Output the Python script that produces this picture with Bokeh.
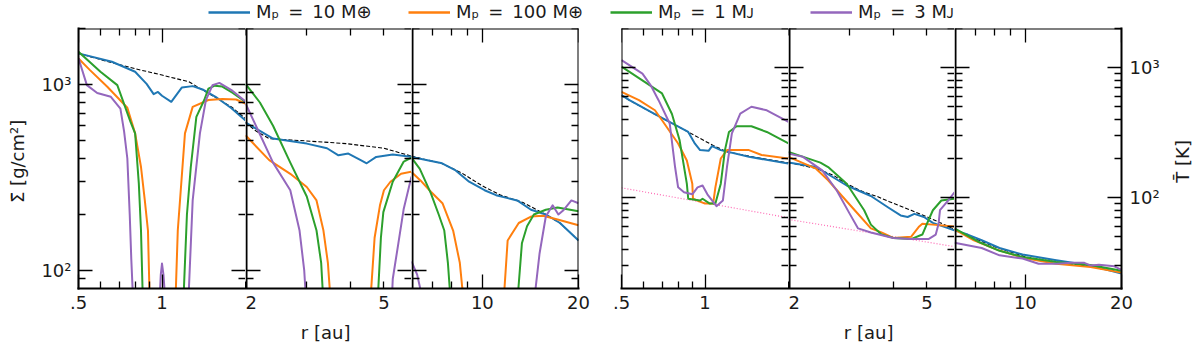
import json
import math
from bokeh.plotting import figure
from bokeh.models import (Range1d, LogAxis, FixedTicker, Legend, LegendItem, Label,
                          CustomJSTickFormatter)
from bokeh.layouts import row, column
from bokeh.embed import file_html
from bokeh.resources import INLINE

FONT = "DejaVu Sans"
BLUE, ORANGE, GREEN, PURPLE = "#1f77b4", "#ff7f0e", "#2ca02c", "#9467bd"
LEGEND_LABELS = ["Mₚ\u2002=\u200210 M⊕", "Mₚ\u2002=\u2002100 M⊕", "Mₚ\u2002=\u20021 Mᴊ", "Mₚ\u2002=\u20023 Mᴊ"]

# ---------------- axes / ticks ----------------
SEG_LIMITS = [(0.5, 2.0), (2.0, 6.0), (6.0, 20.0)]
X_MAJOR = [[0.5, 1], [2, 5], [10, 20]]
X_MAJOR_LABELS = [[".5", "1"], ["2", "5"], ["10", "20"]]
X_MINOR = [[0.6, 0.7, 0.8, 0.9], [3, 4], [7, 8, 9]]
SIG_LIMITS = (80, 2000)
T_LIMITS = (20, 2000)
Y_MAJOR = [100, 1000]
Y_MAJOR_LABELS = ["10²", "10³"]
SIG_MINOR = [90, 200, 300, 400, 500, 600, 700, 800, 900, 2000]
T_MINOR = [30, 40, 50, 60, 70, 80, 90, 200, 300, 400, 500, 600, 700, 800, 900, 2000]
SIG_TITLE = "Σ̄  [g/cm²]"
T_TITLE = "T̄  [K]"
R_TITLE = "r  [au]"

# ---------------- surface density, left panel ----------------
S1_R_INIT = [0.5, 0.64, 0.8, 1.0, 1.25, 1.5, 1.78, 2.0]
S1_INIT = [1470, 1325, 1215, 1124, 1034, 880, 758, 655]
S1_R_10ME = [0.5, 0.66, 0.8, 0.88, 0.933, 0.967, 1.0, 1.08, 1.18, 1.29, 1.4, 1.56, 1.78, 2.0]
S1_10ME = [1470, 1325, 1171, 1007, 887, 912, 870, 807, 964, 980, 940, 859, 745, 640]
S1_R_100ME = [0.5, 0.55, 0.635, 0.75, 0.8, 0.84, 0.867, 0.89, 0.905, 1.115, 1.14, 1.21, 1.29, 1.47, 1.65, 1.85, 2.0]
S1_100ME = [1380, 1195, 973, 750, 546, 360, 238, 164, 60, 60, 164, 546, 758, 825, 835, 830, 790]
S1_R_1MJ = [0.5, 0.6, 0.69, 0.77, 0.8, 0.825, 0.84, 0.855, 1.19, 1.23, 1.27, 1.33, 1.42, 1.47, 1.55, 1.65, 1.8, 2.0]
S1_1MJ = [1500, 1171, 992, 629, 546, 293, 164, 60, 60, 200, 360, 670, 825, 950, 985, 975, 900, 807]
S1_R_3MJ = [0.5, 0.536, 0.584, 0.654, 0.708, 0.73, 0.75, 0.765, 0.775, 0.79, 0.975, 0.99, 1.0, 1.012,
            1.035, 1.24, 1.29, 1.37, 1.44, 1.52, 1.61, 1.78, 2.0]
S1_3MJ = [1382, 992, 900, 859, 742, 560, 400, 200, 115, 60, 60, 95, 109, 95,
          60, 60, 238, 546, 825, 990, 1020, 933, 810]

S2_R_INIT = [2.0, 2.15, 2.34, 2.7, 3.0, 3.89, 5.0, 6.0]
S2_INIT = [625, 560, 512, 503, 497, 481, 454, 412]
S2_R_10ME = [2.0, 2.4, 3.0, 3.43, 3.7, 3.95, 4.3, 4.46, 4.75, 5.3, 6.0]
S2_10ME = [625, 512, 481, 454, 416, 425, 391, 377, 408, 420, 408]
S2_R_100ME = [2.0, 2.34, 2.69, 3.0, 3.2, 3.35, 3.45, 3.53, 4.55, 4.7, 4.87, 5.0, 5.22, 5.6, 6.0]
S2_100ME = [533, 392, 331, 281, 238, 164, 110, 60, 60, 150, 224, 270, 300, 331, 340]
S2_R_1MJ = [2.0, 2.2, 2.4, 2.69, 3.0, 3.2, 3.3, 3.36, 4.78, 4.9, 4.98, 5.3, 5.7, 6.0]
S2_1MJ = [1007, 800, 600, 380, 250, 164, 110, 60, 60, 150, 206, 300, 385, 404]
S2_R_3MJ = [2.0, 2.2, 2.4, 2.69, 2.86, 2.95, 3.0, 5.25, 5.3, 5.5, 5.7, 6.0]
S2_3MJ = [790, 540, 380, 270, 164, 100, 60, 60, 90, 140, 215, 320]

S3_R_INIT = [6.0, 7.5, 8.6, 10.0, 11.35, 13.4, 15.8, 17.5, 20.0]
S3_INIT = [412, 375, 335, 285, 255, 232, 200, 180, 145]
S3_R_10ME = [6.0, 7.48, 8.25, 9.09, 10.16, 11.04, 12.0, 12.86, 14.2, 15.8, 17.5, 20.0]
S3_10ME = [408, 377, 345, 300, 270, 254, 245, 238, 212, 200, 180, 145]
S3_R_100ME = [6.0, 6.4, 6.9, 7.5, 8.1, 8.5, 8.8, 11.6, 12.0, 13.0, 14.2, 15.5, 17.2, 20.0]
S3_100ME = [338, 305, 265, 230, 164, 110, 60, 60, 145, 180, 195, 197, 188, 175]
S3_R_1MJ = [6.0, 6.37, 6.9, 7.3, 7.6, 7.8, 8.0, 12.8, 13.3, 13.8, 14.5, 15.8, 17.2, 20.0]
S3_1MJ = [404, 352, 260, 200, 164, 110, 60, 60, 140, 173, 200, 212, 218, 208]
S3_R_3MJ = [6.0, 6.25, 6.5, 6.6, 14.4, 15.1, 15.8, 16.6, 17.3, 17.9, 19.0, 20.0]
S3_3MJ = [112, 95, 70, 60, 60, 123, 195, 224, 200, 210, 238, 230]

# ---------------- temperature, right panel ----------------
T1_R_INIT = [0.5, 0.534, 0.657, 0.87, 1.07, 1.2, 1.5, 2.0]
T1_INIT = [612, 562, 440, 320, 252, 225, 205, 185]
T1_R_10ME = [0.5, 0.534, 0.657, 0.87, 0.92, 0.96, 1.03, 1.06, 1.14, 1.44, 2.0]
T1_10ME = [615, 562, 440, 320, 260, 232, 229, 249, 232, 206, 183]
T1_R_100ME = [0.5, 0.578, 0.66, 0.7, 0.8, 0.86, 0.9, 0.905, 1.0, 1.07, 1.09, 1.14, 1.2, 1.44, 1.6, 2.0]
T1_100ME = [650, 562, 470, 394, 261, 193, 128, 98, 90, 90, 120, 200, 232, 232, 213, 200]
T1_R_1MJ = [0.5, 0.7, 0.76, 0.81, 0.86, 0.87, 0.96, 0.98, 1.04, 1.09, 1.14, 1.18, 1.22, 1.3, 1.47, 1.67, 2.0]
T1_1MJ = [1017, 633, 440, 276, 128, 98, 95, 98, 90, 90, 128, 232, 320, 354, 354, 320, 261]
T1_R_3MJ = [0.5, 0.595, 0.64, 0.68, 0.746, 0.78, 0.8, 0.84, 0.9, 0.94, 0.98, 1.02, 1.1, 1.16,
            1.2, 1.25, 1.34, 1.47, 1.67, 2.0]
T1_3MJ = [1143, 900, 720, 562, 372, 172, 120, 110, 106, 120, 124, 106, 86, 95,
          172, 312, 443, 500, 470, 382]
T1_R_FLOOR = [0.5, 2.0]
T1_FLOOR = [119, 70]

T2_R_INIT = [2.0, 2.4, 2.7, 2.9, 3.3, 3.6, 3.9, 4.5, 5.2, 6.0]
T2_INIT = [186, 168, 148, 130, 110, 102, 93, 80, 68, 57]
T2_R_10ME = [2.0, 2.4, 2.94, 3.45, 3.87, 4.2, 4.4, 4.6, 4.9, 5.2, 6.0]
T2_10ME = [186, 172, 124, 103, 84, 73, 71, 75, 71, 64, 56]
T2_R_100ME = [2.0, 2.4, 2.6, 2.85, 3.1, 3.45, 3.7, 4.0, 4.5, 4.75, 4.85, 5.2, 6.0]
T2_100ME = [206, 167, 136, 103, 80, 58, 54, 49, 50, 60, 63, 62, 60]
T2_R_1MJ = [2.0, 2.47, 2.6, 2.94, 3.3, 3.45, 3.7, 4.0, 4.5, 4.85, 5.05, 5.2, 5.5, 6.0]
T2_1MJ = [225, 186, 172, 128, 80, 62, 52, 49, 48, 52, 67, 80, 95, 98]
T2_R_3MJ = [2.0, 2.2, 2.5, 2.75, 3.0, 3.17, 3.45, 4.0, 4.5, 5.05, 5.3, 5.4, 5.45, 5.75, 6.0]
T2_3MJ = [218, 206, 162, 114, 75, 58, 54, 49, 48, 48, 52, 63, 80, 95, 110]
T2_R_FLOOR = [2.0, 6.0]
T2_FLOOR = [68, 42]

T3_R_INIT = [6.0, 7.0, 8.0, 10.0, 12.5, 16.0, 20.0]
T3_INIT = [57, 48, 42, 35, 32, 29.5, 26.5]
T3_R_10ME = [6.0, 6.6, 7.3, 8.3, 9.8, 12.5, 16.0, 20.0]
T3_10ME = [56, 52, 47, 41, 36.5, 33, 30, 26.1]
T3_R_100ME = [6.0, 6.9, 8.1, 9.8, 12.5, 16.0, 20.0]
T3_100ME = [57, 47, 40, 34.5, 31, 29.3, 26.5]
T3_R_1MJ = [6.0, 7.1, 8.3, 9.8, 12.5, 16.0, 20.0]
T3_1MJ = [58, 46, 39, 35, 32, 30.3, 27.4]
T3_R_3MJ = [6.0, 7.3, 8.3, 9.8, 11.0, 12.5, 14.0, 15.3, 16.0, 17.0, 19.0, 20.0]
T3_3MJ = [45, 41, 36, 34, 31, 31, 31.5, 31.5, 30, 30.5, 29.6, 27.8]

# ---------------- layout sizes ----------------
FRAME_H = 260
FRAME_W = [167, 166, 167]
BORDER_TOP = 2
BORDER_BOTTOM = 63
LEGEND_H = 26
EDGE_W = 2


def jskey(v):
    v = float(v)
    return str(int(v)) if v.is_integer() else repr(v)


def label_formatter(ticks, labels):
    mapping = {jskey(t): l for t, l in zip(ticks, labels)}
    code = ("const m = %s; const k = String(tick); return (k in m) ? m[k] : '';"
            % json.dumps(mapping, ensure_ascii=False))
    return CustomJSTickFormatter(code=code)


def make_axis(ticks, minor, labels, major_len, minor_len, fixed=None, line=True):
    ax = LogAxis(ticker=FixedTicker(ticks=ticks, minor_ticks=minor),
                 formatter=label_formatter(ticks, labels),
                 major_tick_in=major_len, major_tick_out=0,
                 minor_tick_in=minor_len, minor_tick_out=0,
                 axis_line_color="black" if line else None,
                 axis_line_width=EDGE_W, axis_line_cap="square",
                 major_tick_line_color="black", minor_tick_line_color="black",
                 major_tick_line_width=1.3, minor_tick_line_width=1.3,
                 major_label_text_font=FONT, major_label_text_font_size="18px",
                 major_label_text_color="#1a1a1a",
                 axis_label_text_font=FONT, axis_label_text_font_size="18px",
                 axis_label_text_font_style="normal", axis_label_text_color="#1a1a1a")
    if fixed is not None:
        ax.fixed_location = fixed
    return ax


def base_figure(fw, left=0, right=0, **kw):
    p = figure(frame_width=fw, frame_height=FRAME_H,
               min_border=0, min_border_left=left, min_border_right=right,
               min_border_top=BORDER_TOP, min_border_bottom=BORDER_BOTTOM,
               x_axis_location=None, y_axis_location=None,
               toolbar_location=None, output_backend="svg",
               outline_line_color=None,
               background_fill_color="white", border_fill_color="white", **kw)
    for g in p.grid:
        g.visible = False
    return p


def sub_figure(seg, ylim, yminor, series, left=0, right=0, ylab=None, y_title=None,
               x_title=None, seam_left=False, seam_right=False):
    xlim = SEG_LIMITS[seg]
    p = base_figure(FRAME_W[seg], left, right, x_axis_type="log", y_axis_type="log",
                    x_range=Range1d(*xlim), y_range=Range1d(*ylim))
    for r, v, color, width, dash in series:
        p.line(r, v, line_color=color, line_width=width, line_dash=dash, line_join="round")
    xlen = 7 if seg == 1 else 14
    bx = make_axis(X_MAJOR[seg], X_MINOR[seg], X_MAJOR_LABELS[seg], xlen, 7)
    bx.major_label_standoff = 7
    if x_title:
        bx.axis_label = x_title
        bx.axis_label_standoff = 10
    p.add_layout(bx, "below")
    p.add_layout(make_axis(X_MAJOR[seg], X_MINOR[seg], [], xlen, 7, fixed=ylim[1]), "above")
    if ylab == "left":
        ly = make_axis(Y_MAJOR, yminor, Y_MAJOR_LABELS, 14, 7)
        ly.major_label_standoff = 7
        ly.axis_label = y_title
        ly.axis_label_standoff = 10
        p.add_layout(ly, "left")
    else:
        loc = xlim[0]
        if seam_left:
            # shared divider: drawn by this panel, one pixel inside so it is not cut by the canvas edge
            loc = xlim[0] * (xlim[1] / xlim[0]) ** (1.0 / FRAME_W[seg])
        p.add_layout(make_axis(Y_MAJOR, yminor, [], 14, 7, fixed=loc), "left")
    if ylab == "right":
        ry = make_axis(Y_MAJOR, yminor, Y_MAJOR_LABELS, 14, 7)
        ry.major_label_standoff = 8
        p.add_layout(ry, "right")
    else:
        p.add_layout(make_axis(Y_MAJOR, yminor, [], 14, 7, fixed=xlim[1], line=not seam_right), "right")
    return p


def curves(r_i, v_i, r_b, v_b, r_o, v_o, r_g, v_g, r_p, v_p, floor=None):
    s = [(r_i, v_i, "black", 1.1, "4 2"),
         (r_b, v_b, BLUE, 2.0, "solid"),
         (r_o, v_o, ORANGE, 2.0, "solid"),
         (r_g, v_g, GREEN, 2.0, "solid"),
         (r_p, v_p, PURPLE, 2.0, "solid")]
    if floor is not None:
        s.insert(0, (floor[0], floor[1], "#ff69b4", 1.2, "1 2"))
    return s


f1 = sub_figure(0, SIG_LIMITS, SIG_MINOR,
                curves(S1_R_INIT, S1_INIT, S1_R_10ME, S1_10ME, S1_R_100ME, S1_100ME,
                       S1_R_1MJ, S1_1MJ, S1_R_3MJ, S1_3MJ),
                left=78, ylab="left", y_title=SIG_TITLE, seam_right=True)
f2 = sub_figure(1, SIG_LIMITS, SIG_MINOR,
                curves(S2_R_INIT, S2_INIT, S2_R_10ME, S2_10ME, S2_R_100ME, S2_100ME,
                       S2_R_1MJ, S2_1MJ, S2_R_3MJ, S2_3MJ),
                x_title=R_TITLE, seam_left=True, seam_right=True)
f3 = sub_figure(2, SIG_LIMITS, SIG_MINOR,
                curves(S3_R_INIT, S3_INIT, S3_R_10ME, S3_10ME, S3_R_100ME, S3_100ME,
                       S3_R_1MJ, S3_1MJ, S3_R_3MJ, S3_3MJ),
                right=21, seam_left=True)
f4 = sub_figure(0, T_LIMITS, T_MINOR,
                curves(T1_R_INIT, T1_INIT, T1_R_10ME, T1_10ME, T1_R_100ME, T1_100ME,
                       T1_R_1MJ, T1_1MJ, T1_R_3MJ, T1_3MJ, floor=(T1_R_FLOOR, T1_FLOOR)),
                left=22, seam_right=True)
f5 = sub_figure(1, T_LIMITS, T_MINOR,
                curves(T2_R_INIT, T2_INIT, T2_R_10ME, T2_10ME, T2_R_100ME, T2_100ME,
                       T2_R_1MJ, T2_1MJ, T2_R_3MJ, T2_3MJ, floor=(T2_R_FLOOR, T2_FLOOR)),
                x_title=R_TITLE, seam_left=True, seam_right=True)
f6 = sub_figure(2, T_LIMITS, T_MINOR,
                curves(T3_R_INIT, T3_INIT, T3_R_10ME, T3_10ME, T3_R_100ME, T3_100ME,
                       T3_R_1MJ, T3_1MJ, T3_R_3MJ, T3_3MJ),
                right=46, ylab="right", seam_left=True)

# right-hand axis title, in a narrow strip so it can read bottom-to-top
tfig = base_figure(30, x_range=Range1d(0, 1), y_range=Range1d(0, 1))
tfig.add_layout(Label(x=0.5, y=0.5, text=T_TITLE, angle=math.pi / 2,
                      text_align="center", text_baseline="middle",
                      text_font=FONT, text_font_size="18px", text_color="#1a1a1a"))

TOTAL_W = 78 + 167 + 166 + 167 + 21 + 22 + 167 + 166 + 167 + 46 + 30

# ---------------- legend strip ----------------
leg = figure(frame_width=TOTAL_W, frame_height=LEGEND_H, min_border=0,
             x_range=Range1d(0, 0.1), y_range=Range1d(0, 0.1),
             x_axis_location=None, y_axis_location=None,
             toolbar_location=None, output_backend="svg",
             outline_line_color=None, background_fill_color="white", border_fill_color="white")
for g in leg.grid:
    g.visible = False
items = []
for label, color, (rs, vs) in zip(LEGEND_LABELS, [BLUE, ORANGE, GREEN, PURPLE],
                                  [(S1_R_10ME, S1_10ME), (S1_R_100ME, S1_100ME),
                                   (S1_R_1MJ, S1_1MJ), (S1_R_3MJ, S1_3MJ)]):
    # real series drawn outside this strip's ranges: only the legend sample shows
    rr = leg.line(rs, vs, line_color=color, line_width=2.5)
    items.append(LegendItem(label=label, renderers=[rr]))
legend = Legend(items=items, orientation="horizontal", location=(208, 4),
                padding=0, margin=0, spacing=27, glyph_width=42, glyph_height=20,
                label_standoff=6, label_height=20, label_width=125,
                border_line_color=None, background_fill_alpha=0,
                label_text_font=FONT, label_text_font_size="18px", label_text_color="#1a1a1a")
leg.add_layout(legend, "center")

layout = column(leg, row(f1, f2, f3, f4, f5, f6, tfig))
open("out.html", "w").write(file_html(layout, INLINE))
